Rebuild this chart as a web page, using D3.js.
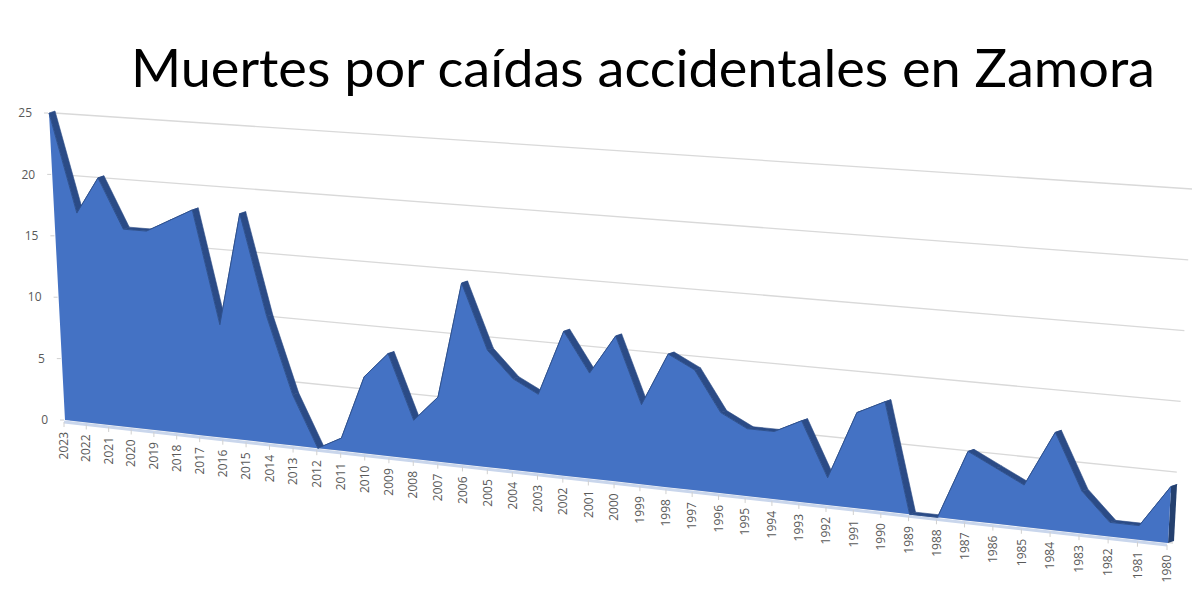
<!DOCTYPE html>
<html>
<head>
<meta charset="utf-8">
<script src="https://cdn.jsdelivr.net/npm/d3@7"></script>
<style>
  body { margin: 0; background: #fff; }
  .title { font-family: Lato, "Open Sans", sans-serif; fill: #000; }
  .tick-label { font-family: "Open Sans", "Liberation Sans", sans-serif; font-size: 12px; fill: #595959; }
</style>
</head>
<body>
<svg width="1200" height="601"></svg>
<script>
"use strict";

const title = "Muertes por caídas accidentales en Zamora";

// años, de 2023 a 1980 (como en el gráfico original)
const years = [
  2023, 2022, 2021, 2020, 2019, 2018, 2017, 2016, 2015, 2014, 2013,
  2012, 2011, 2010, 2009, 2008, 2007, 2006, 2005, 2004, 2003, 2002,
  2001, 2000, 1999, 1998, 1997, 1996, 1995, 1994, 1993, 1992, 1991,
  1990, 1989, 1988, 1987, 1986, 1985, 1984, 1983, 1982, 1981, 1980
];

const deaths = [
  25, 17, 20, 16, 16, 17, 18, 9, 18, 10, 4,
  0, 1, 6, 8, 3, 5, 14, 9, 7, 6, 11,
  8, 11, 6, 10, 9, 6, 5, 5, 6, 2, 7,
  8, 0, 0, 5, 4, 3, 7, 3, 1, 1, 4
];

const valueTicks = [0, 5, 10, 15, 20, 25];

const svg = d3.select("svg");

// the four corners of the (perspective) front plane
const corner = {
  baseLeft: [65, 420],
  topLeft: [49, 113],
  baseRight: [1168, 543],
  topRight: [1187, 189]
};
const depthRatio = 0.865; // near/far scale, gives the 3D foreshortening
const backOffset = [6, -2];
const wallOffset = [5, 0];
const floorOffset = [-1, 2];

const tScale = d3.scalePoint().domain(years).range([0, 1]);
const vScale = d3.scaleLinear().domain([0, 25]).range([0, 1]);

const baseX = d3.scaleLinear().range([corner.baseLeft[0], corner.baseRight[0]]);
const baseY = d3.scaleLinear().range([corner.baseLeft[1], corner.baseRight[1]]);
const topX = d3.scaleLinear().range([corner.topLeft[0], corner.topRight[0]]);
const topY = d3.scaleLinear().range([corner.topLeft[1], corner.topRight[1]]);

const project = (year, value, off = [0, 0]) => {
  const t = tScale(year);
  const s = (depthRatio * t) / (1 - t + depthRatio * t);
  const f = vScale(value);
  const bx = baseX(s), by = baseY(s), tx = topX(s), ty = topY(s);
  return [bx + f * (tx - bx) + off[0], by + f * (ty - by) + off[1]];
};

const data = years.map((y, i) => ({ year: y, value: deaths[i] }));
const last = data[data.length - 1];

// back wall gridlines
svg.append("g")
  .selectAll("line")
  .data(valueTicks)
  .enter()
  .append("line")
  .attr("x1", d => project(years[0], d, wallOffset)[0])
  .attr("y1", d => project(years[0], d, wallOffset)[1])
  .attr("x2", d => project(last.year, d, wallOffset)[0])
  .attr("y2", d => project(last.year, d, wallOffset)[1])
  .attr("stroke", "#d9d9d9")
  .attr("stroke-width", 1.3);

// floor edge and year ticks
svg.append("line")
  .attr("x1", project(years[0], 0, floorOffset)[0])
  .attr("y1", project(years[0], 0, floorOffset)[1])
  .attr("x2", project(last.year, 0, floorOffset)[0])
  .attr("y2", project(last.year, 0, floorOffset)[1])
  .attr("stroke", "#c9d6ec")
  .attr("stroke-width", 3);

svg.append("g")
  .selectAll("line")
  .data(years)
  .enter()
  .append("line")
  .attr("x1", d => project(d, 0, floorOffset)[0])
  .attr("y1", d => project(d, 0, floorOffset)[1])
  .attr("x2", d => project(d, 0, floorOffset)[0])
  .attr("y2", d => project(d, 0, floorOffset)[1] + 5)
  .attr("stroke", "#d0d0d0");

// top surface of the extruded area
const shift = (p, o) => [p[0] + o[0], p[1] + o[1]];
const segments = d3.pairs(data).map(([a, b]) => {
  const pa = project(a.year, a.value);
  const pb = project(b.year, b.value);
  return [pa, pb, shift(pb, backOffset), shift(pa, backOffset)];
});

const poly = d3.line().curve(d3.curveLinearClosed);

svg.append("g")
  .selectAll("path")
  .data(segments)
  .enter()
  .append("path")
  .attr("d", poly)
  .attr("fill", "#2b4b86")
  .attr("stroke", "#2b4b86")
  .attr("stroke-width", 0.6);

// right side face
const rTop = project(last.year, last.value);
const rBase = project(last.year, 0);
svg.append("path")
  .attr("d", poly([rTop, rBase, shift(rBase, backOffset), shift(rTop, backOffset)]))
  .attr("fill", "#24406f");

// front face
const area = d3.area()
  .x0(d => project(d.year, 0)[0])
  .y0(d => project(d.year, 0)[1])
  .x1(d => project(d.year, d.value)[0])
  .y1(d => project(d.year, d.value)[1]);

svg.append("path")
  .datum(data)
  .attr("d", area)
  .attr("fill", "#4472c4");

svg.append("path")
  .datum(data)
  .attr("d", d3.line().x(d => project(d.year, d.value)[0]).y(d => project(d.year, d.value)[1]))
  .attr("fill", "none")
  .attr("stroke", "#2f528f")
  .attr("stroke-width", 1);

// value axis labels
const yAxisG = svg.append("g");
yAxisG.selectAll("text")
  .data(valueTicks)
  .enter()
  .append("text")
  .attr("class", "tick-label")
  .attr("x", d => project(years[0], d)[0] - 17)
  .attr("y", d => project(years[0], d)[1])
  .attr("dy", "0.35em")
  .attr("text-anchor", "end")
  .text(d => d);

yAxisG.selectAll("line")
  .data(valueTicks)
  .enter()
  .append("line")
  .attr("x1", d => project(years[0], d)[0] - 5)
  .attr("x2", d => project(years[0], d)[0] - 1)
  .attr("y1", d => project(years[0], d)[1])
  .attr("y2", d => project(years[0], d)[1])
  .attr("stroke", "#d0d0d0");

// year labels, rotated
svg.append("g")
  .selectAll("text")
  .data(years)
  .enter()
  .append("text")
  .attr("class", "tick-label")
  .attr("transform", d => {
    const p = project(d, 0, floorOffset);
    return `translate(${p[0]},${p[1] + 10}) rotate(-90)`;
  })
  .attr("dy", "0.35em")
  .attr("text-anchor", "end")
  .text(d => d);

svg.append("text")
  .attr("class", "title")
  .attr("x", 131)
  .attr("y", 87)
  .attr("font-size", 52)
  .attr("textLength", 1024)
  .attr("lengthAdjust", "spacingAndGlyphs")
  .text(title);
</script>
</body>
</html>
